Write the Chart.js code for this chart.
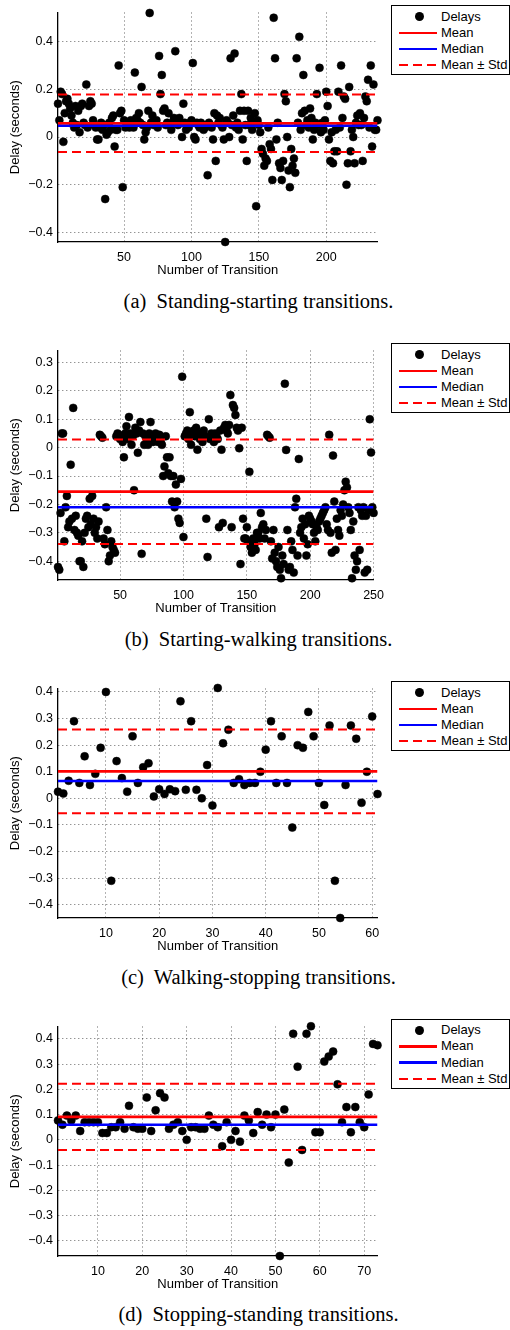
<!DOCTYPE html>
<html>
<head>
<meta charset="utf-8">
<script src="https://cdn.jsdelivr.net/npm/chart.js@4.4.0/dist/chart.umd.min.js"></script>
<style>
  html, body { margin: 0; padding: 0; background: #fff; }
  body { width: 510px; height: 1330px; position: relative; overflow: hidden; font-family: "Liberation Sans", Arial, sans-serif; }
  .panel { position: absolute; left: 0; width: 392px; height: 282px; }
  .legend { position: absolute; left: 391px; width: 117px; height: 68px; border: 1px solid #000; background: #fff; font-size: 13px; color: #000; }
  .row { position: absolute; left: 0; height: 16px; width: 100%; }
  .row .txt { position: absolute; left: 49px; top: 0; line-height: 16px; white-space: pre; }
  .dot { position: absolute; left: 22.5px; top: 3.5px; width: 9px; height: 9px; border-radius: 50%; background: #000; }
  .ln { position: absolute; left: 7px; width: 38px; top: 6.8px; height: 2.6px; }
  .caption { position: absolute; left: 0; width: 517px; text-align: center; font-family: "Liberation Serif", "Times New Roman", serif; font-size: 20.5px; line-height: 24px; white-space: pre; color: #000; }
</style>
</head>
<body>
<script>
// delays, one value per transition (x = 1..n)
const delaysA = [
  0.14, 0.07, 0.19, 0.18, -0.02, 0.10, 0.15, 0.16, 0.14, 0.12,
  0.09, 0.06, 0.04, 0.13, 0.05, 0.11, 0.02, 0.13, 0.14, 0.06,
  0.05, 0.22, 0.04, 0.13, 0.15, 0.14, 0.07, 0.05, 0.04, -0.01,
  -0.01, 0.04, 0.06, 0.03, 0.05, -0.26, 0.01, 0.02, 0.06, 0.03,
  0.08, 0.09, -0.04, 0.03, 0.03, 0.30, 0.10, 0.11, -0.21, 0.07,
  0.04, 0.06, 0.05, 0.04, 0.07, 0.06, 0.04, 0.27, 0.08, 0.07,
  0.10, 0.06, 0.21, 0.05, -0.01, 0.02, 0.04, 0.11, 0.52, 0.06,
  0.09, 0.05, 0.06, 0.07, 0.04, 0.34, 0.18, 0.26, 0.11, 0.12,
  0.05, 0.06, 0.10, 0.05, 0.03, 0.06, 0.08, 0.36, 0.07, 0.05,
  0.08, 0.06, 0.00, 0.14, 0.06, 0.03, 0.05, 0.04, 0.06, 0.07,
  0.31, 0.00, -0.01, 0.06, 0.05, 0.04, 0.06, 0.05, 0.03, 0.04,
  0.05, -0.16, 0.06, 0.05, 0.04, -0.01, 0.10, -0.10, 0.09, 0.06,
  0.08, 0.05, 0.04, -0.01, -0.44, 0.07, 0.06, 0.00, 0.33, 0.05,
  0.09, 0.35, 0.04, 0.06, 0.03, 0.11, 0.18, -0.01, 0.11, 0.05,
  -0.10, 0.11, 0.05, 0.08, 0.03, 0.06, 0.10, -0.29, 0.07, 0.05,
  0.02, -0.05, -0.07, -0.12, -0.09, -0.10, 0.04, -0.03, -0.05, -0.18,
  0.50, 0.33, -0.01, 0.06, -0.11, -0.13, -0.18, -0.10, 0.18, 0.15,
  0.00, -0.14, -0.21, -0.05, -0.12, -0.09, -0.15, 0.33, 0.06, 0.42,
  0.03, 0.10, 0.26, 0.11, 0.05, 0.07, 0.04, 0.12, 0.08, -0.01,
  0.03, 0.06, 0.18, 0.05, 0.29, 0.02, 0.06, 0.03, 0.07, 0.19,
  0.13, -0.01, -0.10, 0.02, -0.11, -0.06, 0.03, -0.06, 0.19, 0.04,
  0.30, 0.08, 0.17, 0.16, -0.20, -0.11, 0.21, -0.06, 0.03, 0.00,
  -0.11, 0.06, 0.09, 0.05, 0.10, 0.05, -0.10, 0.08, 0.17, 0.15,
  0.24, 0.04, 0.30, -0.04, 0.22, 0.03, 0.03, 0.07
];
const delaysB = [
  -0.42, -0.43, -0.23, 0.05, 0.05, -0.33, -0.21, -0.17, -0.28, -0.26,
  -0.06, -0.25, 0.14, -0.29, -0.24, -0.30, -0.31, -0.40, -0.40, -0.33,
  -0.42, -0.30, -0.25, -0.24, -0.28, -0.18, -0.27, -0.17, -0.25, -0.30,
  -0.28, -0.32, -0.26, 0.045, 0.04, 0.035, -0.32, -0.34, -0.21, -0.29,
  -0.40, -0.38, -0.33, -0.35, -0.36, -0.37, 0.04, 0.05, 0.045, 0.03,
  0.04, 0.02, -0.034, 0.05, 0.075, 0.03, 0.108, 0.05, 0.01, 0.04,
  -0.15, 0.07, 0.05, -0.018, 0.06, 0.09, -0.374, 0.05, 0.01, 0.04,
  0.03, 0.01, 0.05, 0.09, 0.04, 0.02, 0.03, 0.05, 0.04, 0.02,
  0.045, 0.02, 0.01, -0.10, -0.066, 0.04, -0.034, -0.09, -0.034, -0.10,
  -0.19, -0.10, -0.21, -0.13, -0.19, -0.25, -0.265, -0.11, 0.25, -0.315,
  0.04, 0.05, 0.06, 0.03, 0.125, 0.01, 0.05, 0.06, 0.04, 0.07,
  -0.007, 0.05, 0.03, 0.05, 0.02, 0.06, 0.04, -0.25, -0.385, 0.10,
  0.03, 0.05, 0.04, 0.02, 0.05, 0.04, 0.03, -0.28, 0.06, -0.007,
  -0.265, 0.07, 0.08, 0.06, 0.05, 0.08, 0.185, -0.28, 0.15, 0.14,
  0.115, 0.07, 0.06, -0.002, -0.41, 0.07, -0.25, -0.32, -0.32, -0.28,
  -0.33, -0.085, -0.35, -0.37, -0.32, -0.34, -0.36, -0.30, -0.30, -0.32,
  -0.23, -0.28, -0.27, -0.32, -0.29, 0.045, 0.04, 0.035, -0.33, -0.39,
  -0.29, -0.37, -0.40, -0.42, -0.35, -0.43, -0.46, -0.38, -0.41, 0.225,
  -0.008, -0.29, -0.43, -0.42, -0.33, -0.36, -0.44, -0.21, -0.18, -0.38,
  -0.04, -0.30, -0.28, -0.25, -0.32, -0.27, -0.38, -0.34, -0.24, -0.25,
  -0.26, -0.27, -0.30, -0.33, -0.28, -0.29, -0.26, -0.25, -0.24, -0.23,
  -0.22, -0.21, -0.27, -0.29, 0.045, -0.30, -0.37, -0.028, -0.19, -0.36,
  -0.25, -0.29, -0.31, -0.22, -0.24, -0.20, -0.15, -0.12, -0.14, -0.21,
  -0.23, -0.29, -0.46, -0.26, -0.38, -0.43, -0.40, -0.21, -0.36, -0.22,
  -0.24, -0.21, -0.44, -0.24, -0.43, -0.22, 0.10, -0.017, -0.21, -0.23
];
const delaysC = [
  0.025, 0.018, 0.066, 0.29, 0.058, 0.158, 0.05, 0.092, 0.19, 0.40,
  -0.31, 0.14, 0.076, 0.025, 0.233, 0.058, 0.117, 0.132, 0.007, 0.034,
  0.016, 0.034, 0.027, 0.365, 0.032, 0.29, 0.032, 0.0, 0.125, -0.027,
  0.415, 0.207, 0.258, 0.058, 0.072, 0.05, 0.058, 0.058, 0.1, 0.183,
  0.29, 0.058, 0.233, 0.058, -0.11, 0.2, 0.19, 0.325, 0.233, 0.058,
  -0.025, 0.274, -0.31, -0.45, 0.05, 0.274, 0.224, -0.017, 0.1, 0.308,
  0.016
];
const delaysD = [
  0.077, 0.06, 0.096, 0.077, 0.096, 0.035, 0.07, 0.07, 0.07, 0.07,
  0.027, 0.027, 0.05, 0.05, 0.07, 0.044, 0.135, 0.05, 0.044, 0.044,
  0.168, 0.035, 0.117, 0.185, 0.168, 0.044, 0.06, 0.07, 0.035, 0.0,
  0.05, 0.05, 0.044, 0.044, 0.096, 0.06, 0.05, -0.025, 0.07, 0.0,
  0.035, -0.007, 0.096, 0.077, 0.027, 0.11, 0.06, 0.10, 0.05, 0.10,
  -0.46, 0.12, -0.09, 0.42, 0.29, -0.04, 0.42, 0.45, 0.03, 0.03,
  0.31, 0.33, 0.35, 0.22, 0.07, 0.13, 0.03, 0.13, 0.07, 0.05,
  0.18, 0.38, 0.375
];

// summary lines per panel (a, b, c, d)
const meanVals   = [0.058, -0.155, 0.1015, 0.091];
const medianVals = [0.048, -0.21, 0.065, 0.06];
const stdVals    = [0.1205, 0.184, 0.1575, 0.131];

// axis limits and ticks
const xMaxVals = [238, 250, 61, 73];
const yMinVals = [-0.44, -0.466, -0.45, -0.46];
const yMaxVals = [0.522, 0.342, 0.413, 0.449];
const xTicksA = [50, 100, 150, 200];
const xTicksB = [50, 100, 150, 200, 250];
const xTicksC = [10, 20, 30, 40, 50, 60];
const xTicksD = [10, 20, 30, 40, 50, 60, 70];
const yTicksA = [-0.4, -0.2, 0, 0.2, 0.4];
const yTicksB = [-0.4, -0.3, -0.2, -0.1, 0, 0.1, 0.2, 0.3];
const yTicksC = [-0.4, -0.3, -0.2, -0.1, 0, 0.1, 0.2, 0.3, 0.4];
const yTicksD = [-0.4, -0.3, -0.2, -0.1, 0, 0.1, 0.2, 0.3, 0.4];

const legendLabels = ['Delays', 'Mean', 'Median', 'Mean \u00b1 Std'];
const captions = [
  '(a)  Standing-starting transitions.',
  '(b)  Starting-walking transitions.',
  '(c)  Walking-stopping transitions.',
  '(d)  Stopping-standing transitions.'
];

const panelTops = [5, 343, 681, 1018.5];
const captionTops = [289, 627, 965, 1302];
const FONT = '"Liberation Sans", Arial, sans-serif';

function fmtY(v) {
  if (Math.abs(v) < 1e-9) return '0';
  return (v < 0 ? '\u2212' : '') + Math.abs(v).toFixed(1);
}

function hline(y, xMax, color, width, dash) {
  return {
    type: 'line',
    data: [{ x: 1, y: y }, { x: xMax, y: y }],
    borderColor: color,
    borderWidth: width,
    borderDash: dash || [],
    pointRadius: 0,
    fill: false,
    order: 0
  };
}

function makePanel(i, delays, xTicks, yTicks) {
  const top = panelTops[i];
  const canvas = document.createElement('canvas');
  canvas.className = 'panel';
  canvas.width = 392;
  canvas.height = 282;
  canvas.style.top = (top - 5) + 'px';
  document.body.appendChild(canvas);

  const xMax = xMaxVals[i];
  const m = meanVals[i], s = stdVals[i];

  new Chart(canvas.getContext('2d'), {
    type: 'scatter',
    data: {
      datasets: [
        {
          label: legendLabels[0],
          data: delays.map((v, k) => ({ x: k + 1, y: v })),
          backgroundColor: '#000',
          borderColor: '#000',
          pointRadius: 4,
          pointBorderWidth: 0.5,
          clip: false,
          order: 5
        },
        hline(m, xMax, '#ff0000', 2.6),
        hline(medianVals[i], xMax, '#0000ff', 2.6),
        hline(m + s, xMax, '#ff0000', 2, [9, 5]),
        hline(m - s, xMax, '#ff0000', 2, [9, 5])
      ]
    },
    options: {
      responsive: false,
      animation: false,
      devicePixelRatio: 1,
      layout: { padding: { top: 5, right: 14.5, left: 0, bottom: 0 } },
      plugins: { legend: { display: false }, tooltip: { enabled: false } },
      scales: {
        x: {
          type: 'linear',
          min: 1,
          max: xMax,
          afterFit: (sc) => { sc.height = 40; },
          afterBuildTicks: (sc) => { sc.ticks = xTicks.map(v => ({ value: v })); },
          grid: { color: 'rgba(0,0,0,0.6)', lineWidth: 1, drawTicks: false },
          border: { display: true, color: '#000', width: 1.3, dash: [1, 3] },
          ticks: { padding: 8, color: '#000', maxRotation: 0, autoSkip: false, font: { family: FONT, size: 12.5 } },
          title: { display: true, text: 'Number of Transition', color: '#000', padding: { top: 0, bottom: 4 }, font: { family: FONT, size: 13 } }
        },
        y: {
          type: 'linear',
          min: yMinVals[i],
          max: yMaxVals[i],
          afterFit: (sc) => { sc.width = 58; },
          afterBuildTicks: (sc) => { sc.ticks = yTicks.map(v => ({ value: v })); },
          grid: { color: 'rgba(0,0,0,0.6)', lineWidth: 1, drawTicks: false },
          border: { display: true, color: '#000', width: 1.3, dash: [1, 3] },
          ticks: { padding: 5, color: '#000', autoSkip: false, font: { family: FONT, size: 12.5 }, callback: (v) => fmtY(v) },
          title: { display: true, text: 'Delay (seconds)', color: '#000', padding: { top: 8, bottom: 0 }, font: { family: FONT, size: 13 } }
        }
      }
    }
  });

  // legend box, same look in every panel
  const lg = document.createElement('div');
  lg.className = 'legend';
  lg.style.top = top + 'px';
  legendLabels.forEach((txt, r) => {
    const row = document.createElement('div');
    row.className = 'row';
    row.style.top = (2.5 + 16.3 * r) + 'px';
    let sample;
    if (r === 0) {
      sample = '<span class="dot"></span>';
    } else if (r === 1) {
      sample = '<span class="ln" style="background:#ff0000"></span>';
    } else if (r === 2) {
      sample = '<span class="ln" style="background:#0000ff"></span>';
    } else {
      sample = '<span class="ln" style="height:2px;top:7px;background:repeating-linear-gradient(to right,#ff0000 0 9px,transparent 9px 14px)"></span>';
    }
    row.innerHTML = sample + '<span class="txt">' + txt + '</span>';
    lg.appendChild(row);
  });
  document.body.appendChild(lg);

  const cap = document.createElement('div');
  cap.className = 'caption';
  cap.style.top = captionTops[i] + 'px';
  cap.textContent = captions[i];
  document.body.appendChild(cap);
}

makePanel(0, delaysA, xTicksA, yTicksA);
makePanel(1, delaysB, xTicksB, yTicksB);
makePanel(2, delaysC, xTicksC, yTicksC);
makePanel(3, delaysD, xTicksD, yTicksD);
</script>
</body>
</html>
